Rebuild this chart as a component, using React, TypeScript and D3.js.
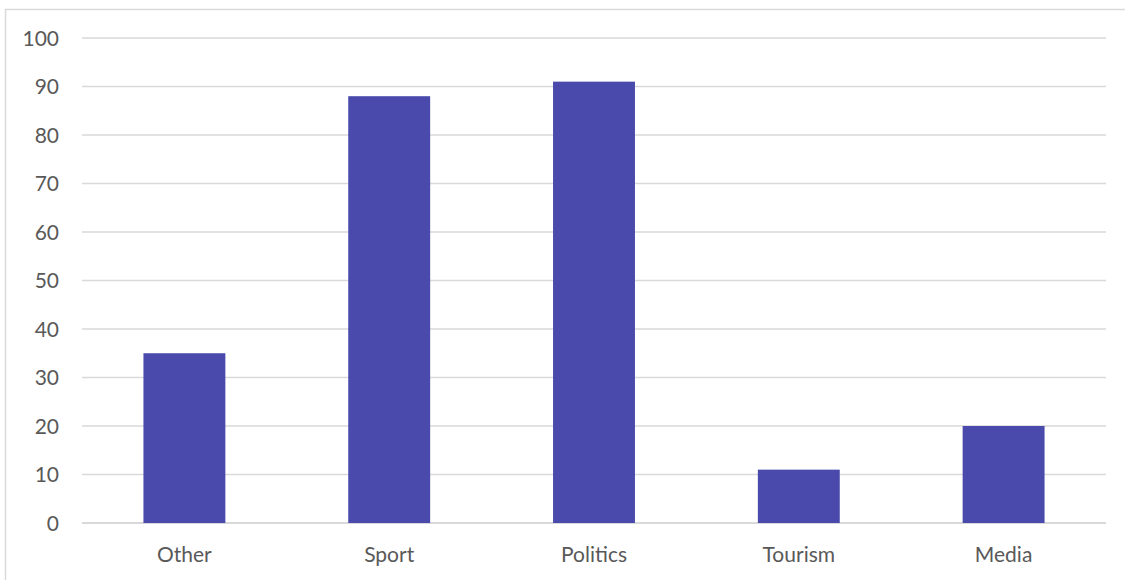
import React from "react";
import * as d3 from "d3";

const categories: string[] = ["Other", "Sport", "Politics", "Tourism", "Media"];
const values: number[] = [35, 88, 91, 11, 20];
const yTicks: number[] = [0, 10, 20, 30, 40, 50, 60, 70, 80, 90, 100];

const W = 1125;
const H = 580;
const plot = { left: 82, right: 1106, top: 38, bottom: 523 };
const FONT = "Lato, 'Open Sans', sans-serif";

export default function App() {
  const x = d3
    .scaleBand<string>()
    .domain(categories)
    .range([plot.left, plot.right])
    .paddingInner(0.6)
    .paddingOuter(0.3);
  const y = d3.scaleLinear().domain([0, 100]).range([plot.bottom, plot.top]);

  return (
    <svg
      width={W}
      height={H}
      style={{ position: "absolute", left: 0, top: 0, background: "#fff" }}
    >
      <rect x={5.5} y={9.5} width={1300} height={700} fill="#fff" stroke="#d9d9d9" strokeWidth={1.5} />
      {yTicks.map((t) => (
        <g key={t}>
          <line
            x1={plot.left}
            x2={plot.right}
            y1={y(t)}
            y2={y(t)}
            stroke="#d9d9d9"
            strokeWidth={t === 0 ? 2 : 1.5}
          />
          <text
            x={59}
            y={y(t)}
            dy="0.36em"
            textAnchor="end"
            fontFamily={FONT}
            fontSize={21}
            fill="#595959"
          >
            {t}
          </text>
        </g>
      ))}
      {categories.map((c, i) => (
        <rect
          key={c}
          x={x(c)}
          y={y(values[i])}
          width={x.bandwidth()}
          height={y(0) - y(values[i])}
          fill="#4a4aac"
        />
      ))}
      {categories.map((c) => (
        <text
          key={c}
          x={(x(c) as number) + x.bandwidth() / 2}
          y={562}
          textAnchor="middle"
          fontFamily={FONT}
          fontSize={21}
          fill="#595959"
        >
          {c}
        </text>
      ))}
    </svg>
  );
}
